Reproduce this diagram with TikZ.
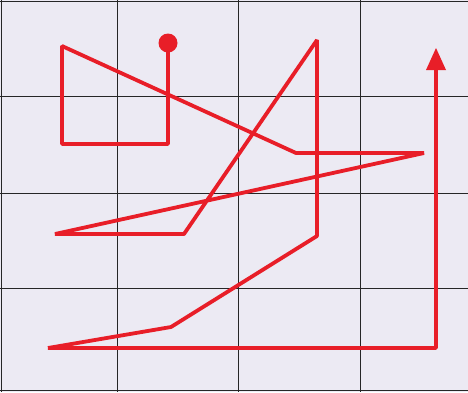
\documentclass[tikz,border=0pt]{standalone}
\usetikzlibrary{arrows.meta}
\definecolor{bgpaper}{RGB}{236,234,243}
\definecolor{routered}{RGB}{232,30,40}
\tikzset{
  gridline/.style={draw=black!85, line width=1pt},
  route/.style={draw=routered, line width=3.8pt, line join=bevel},
  startdot/.style={circle, fill=routered, inner sep=0pt, minimum size=19pt},
  waypoint/.style={coordinate}
}
\begin{document}
\begin{tikzpicture}[x=1pt, y=-1pt]
  \useasboundingbox (0,0) rectangle (468,392);
  \fill[bgpaper] (0,0) rectangle (468,392);
  % grid
  \draw[gridline] (0,1.5) -- (468,1.5);
  \draw[gridline] (1.5,0) -- (1.5,392);
  \draw[gridline] (0,390.5) -- (468,390.5);
  \foreach \gx in {117,238,360} \draw[gridline] (\gx,0) -- (\gx,392);
  \foreach \gy in {96,193,288} \draw[gridline] (0,\gy) -- (468,\gy);
  % route points
  \node[startdot] (start) at (168,43) {};
  \coordinate (p1) at (168,144);
  \coordinate (p2) at (62,144);
  \coordinate (p3) at (62,46);
  \coordinate (p4) at (296,153);
  \coordinate (p5) at (424,153);
  \coordinate (p6) at (55,234);
  \coordinate (p7) at (184,234);
  \coordinate (p8) at (317,40);
  \coordinate (p9) at (317,236);
  \coordinate (p10) at (171,327);
  \coordinate (p11) at (48,348);
  \coordinate (p12) at (436,348);
  \coordinate (goal) at (436,48);
  \draw[route] (start.center) -- (p1) -- (p2) -- (p3) -- (p4) -- (p5) -- (p6) -- (p7) -- (p8) -- (p9) -- (p10) -- (p11) -- (p12) -- (436,66);
  \fill[routered] (goal) -- (426,70) -- (446,70) -- cycle;
\end{tikzpicture}
\end{document}
